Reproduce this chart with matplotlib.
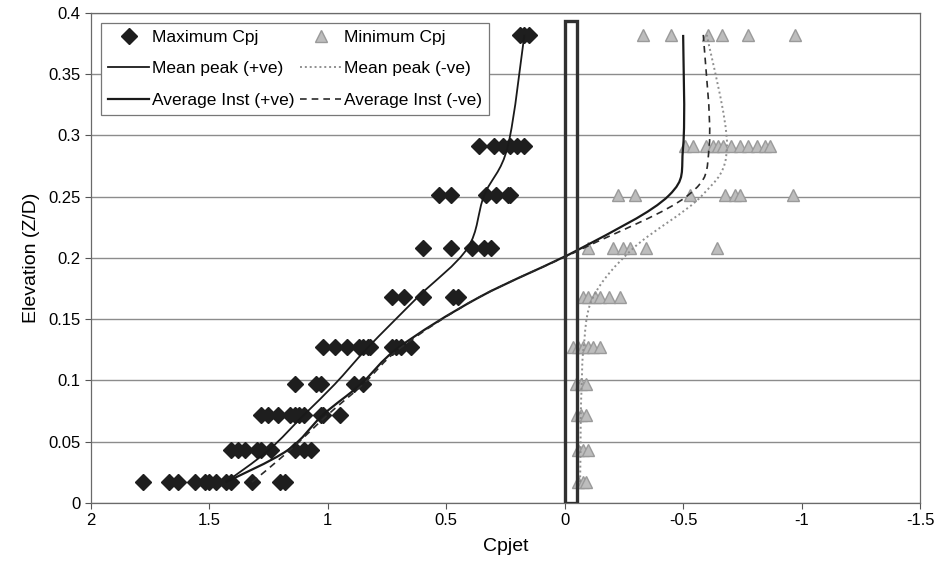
import matplotlib
matplotlib.use("Agg")
import matplotlib.pyplot as plt
from matplotlib.patches import Rectangle, PathPatch
from matplotlib.path import Path
from matplotlib.lines import Line2D

plt.rcParams['font.family'] = ['Liberation Sans', 'DejaVu Sans']

# elevation levels (Z/D)
levels = [0.017, 0.043, 0.072, 0.097, 0.127, 0.168, 0.208, 0.251, 0.291, 0.382]

# Maximum Cpj points per level
max_cpj = {
    0.017: [1.78, 1.67, 1.63, 1.56, 1.52, 1.50, 1.47, 1.43, 1.41, 1.32, 1.20, 1.18],
    0.043: [1.41, 1.38, 1.35, 1.30, 1.28, 1.24, 1.14, 1.10, 1.07],
    0.072: [1.28, 1.25, 1.21, 1.16, 1.14, 1.12, 1.10, 1.03, 1.02, 0.95],
    0.097: [1.14, 1.05, 1.03, 0.89, 0.85],
    0.127: [1.02, 0.97, 0.92, 0.87, 0.85, 0.83, 0.82, 0.73, 0.71, 0.69, 0.65],
    0.168: [0.73, 0.68, 0.60, 0.47, 0.45],
    0.208: [0.60, 0.48, 0.39, 0.34, 0.31],
    0.251: [0.53, 0.48, 0.33, 0.29, 0.24, 0.23],
    0.291: [0.36, 0.30, 0.26, 0.23, 0.20, 0.17],
    0.382: [0.19, 0.17, 0.15],
}

# Minimum Cpj points per level
min_cpj = {
    0.017: [-0.055, -0.077, -0.09],
    0.043: [-0.055, -0.077, -0.098],
    0.072: [-0.05, -0.07, -0.09],
    0.097: [-0.048, -0.069, -0.09],
    0.127: [-0.034, -0.055, -0.077, -0.098, -0.119, -0.147],
    0.168: [-0.077, -0.098, -0.126, -0.147, -0.189, -0.232],
    0.208: [-0.098, -0.204, -0.246, -0.274, -0.344, -0.641],
    0.251: [-0.225, -0.295, -0.528, -0.676, -0.718, -0.74, -0.965],
    0.291: [-0.507, -0.542, -0.598, -0.627, -0.648, -0.669, -0.704, -0.739,
            -0.775, -0.81, -0.845, -0.865],
    0.382: [-0.33, -0.45, -0.605, -0.662, -0.775, -0.972],
}

mean_peak_pos = [1.43, 1.25, 1.10, 0.97, 0.83, 0.62, 0.41, 0.34, 0.24, 0.17]
mean_peak_neg = [-0.065, -0.067, -0.068, -0.072, -0.08, -0.12, -0.29, -0.58, -0.685, -0.60]
avg_inst_pos = [1.43, 1.17, 1.02, 0.86, 0.70, 0.36, -0.07, -0.44, -0.50, -0.50]
avg_inst_neg = [1.32, 1.16, 1.00, 0.85, 0.69, 0.36, -0.08, -0.52, -0.61, -0.585]

# jet core box
box_x = [0.0, -0.053]
box_top = 0.393


def smooth_path(xs, ys):
    # excel style smoothed line: cubic bezier through each point
    pts = list(zip(xs, ys))
    n = len(pts)
    verts = [pts[0]]
    codes = [Path.MOVETO]
    for i in range(n - 1):
        p0 = pts[i - 1] if i > 0 else pts[i]
        p1 = pts[i]
        p2 = pts[i + 1]
        p3 = pts[i + 2] if i + 2 < n else pts[i + 1]
        c1 = (p1[0] + (p2[0] - p0[0]) / 6, p1[1] + (p2[1] - p0[1]) / 6)
        c2 = (p2[0] - (p3[0] - p1[0]) / 6, p2[1] - (p3[1] - p1[1]) / 6)
        verts += [c1, c2, p2]
        codes += [Path.CURVE4] * 3
    return Path(verts, codes)


fig = plt.figure(figsize=(9.36, 5.7), dpi=100)
ax = fig.add_axes([0.097, 0.1175, 0.886, 0.86])

mx, my = [], []
for lv in levels:
    for v in max_cpj[lv]:
        mx.append(v)
        my.append(lv)
nx, ny = [], []
for lv in levels:
    for v in min_cpj[lv]:
        nx.append(v)
        ny.append(lv)

ax.plot(mx, my, 'D', color='#1e1e1e', markersize=8, linestyle='none', zorder=3)
ax.plot(nx, ny, '^', color='#bdbdbd', markeredgecolor='#9a9a9a',
        markersize=9, linestyle='none', zorder=3)

line_styles = [
    (mean_peak_pos, dict(color='#1a1a1a', lw=1.3, linestyle='-')),
    (mean_peak_neg, dict(color='#8f8f8f', lw=1.4, linestyle=(0, (1, 1.5)))),
    (avg_inst_pos, dict(color='#1a1a1a', lw=1.6, linestyle='-')),
    (avg_inst_neg, dict(color='#2a2a2a', lw=1.2, linestyle=(0, (4, 3)))),
]
for vals, st in line_styles:
    ax.add_patch(PathPatch(smooth_path(vals, levels), fill=False, zorder=4, **st))

ax.add_patch(Rectangle((box_x[1], 0), box_x[0] - box_x[1], box_top,
                       fill=False, edgecolor='#303030', lw=2.4, zorder=5))

ax.set_xlim(2, -1.5)
ax.set_ylim(0, 0.4)
ax.set_xticks([2, 1.5, 1, 0.5, 0, -0.5, -1, -1.5])
ax.set_xticklabels(['2', '1.5', '1', '0.5', '0', '-0.5', '-1', '-1.5'])
ax.set_yticks([0, 0.05, 0.1, 0.15, 0.2, 0.25, 0.3, 0.35, 0.4])
ax.set_yticklabels(['0', '0.05', '0.1', '0.15', '0.2', '0.25', '0.3', '0.35', '0.4'])
ax.tick_params(labelsize=12, length=4, color='#555555')
ax.yaxis.grid(True, color='#8c8c8c', lw=1)
ax.set_axisbelow(True)
for s in ax.spines.values():
    s.set_color('#6a6a6a')
    s.set_linewidth(0.9)

ax.set_xlabel('Cpjet', fontsize=14, labelpad=7)
ax.set_ylabel('Elevation (Z/D)', fontsize=14, labelpad=6)

handles = [
    Line2D([], [], marker='D', color='#1e1e1e', markersize=8, linestyle='none'),
    Line2D([], [], **line_styles[0][1]),
    Line2D([], [], **line_styles[2][1]),
    Line2D([], [], marker='^', color='#bdbdbd', markeredgecolor='#9a9a9a',
           markersize=9, linestyle='none'),
    Line2D([], [], **line_styles[1][1]),
    Line2D([], [], **line_styles[3][1]),
]
labels = ['Maximum Cpj', 'Mean peak (+ve)', 'Average Inst (+ve)',
          'Minimum Cpj', 'Mean peak (-ve)', 'Average Inst (-ve)']
leg = ax.legend(handles, labels, ncol=2, loc='upper left',
                bbox_to_anchor=(0.012, 0.98), fontsize=12.5, fancybox=False,
                edgecolor='#777777', framealpha=1, borderaxespad=0,
                borderpad=0.4, handlelength=2.4, columnspacing=0.3,
                handletextpad=0.15, labelspacing=0.95)
leg.get_frame().set_linewidth(0.9)

fig.savefig('out.png', dpi=100)
